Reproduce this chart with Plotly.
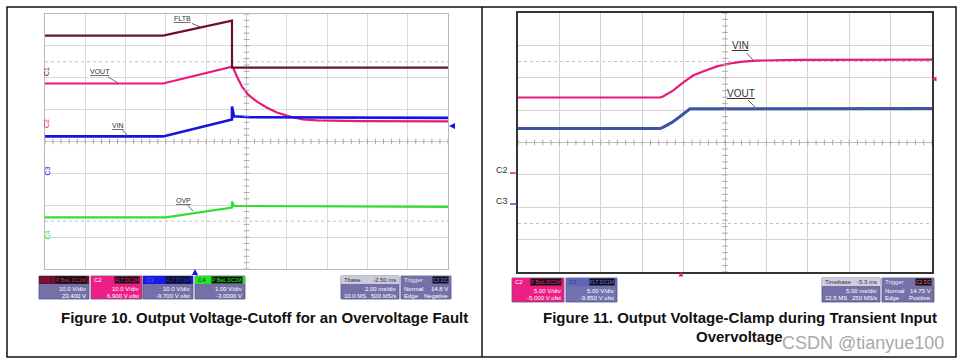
import numpy as np
import plotly.graph_objects as go

W, H = 964, 364


def px(x):
    return x / W


def py(y):
    return 1 - y / H


# ---------------- Figure 10 data (time in ms, 2 ms/div; amplitude in screen divisions) -------------
f10_fltb_t = [-10.0, -4.14, -0.72, -0.72, 10.0]
f10_fltb_v = [3.32, 3.32, 3.79, 2.32, 2.32]
f10_vout_t = [-10.0, -4.14, -0.72, -0.67, -0.47, -0.22, 0.08, 0.52, 1.02, 1.51, 2.16, 2.80, 3.50, 5.63, 10.0]
f10_vout_v = [1.82, 1.82, 2.35, 2.32, 2.03, 1.72, 1.47, 1.25, 1.06, 0.91, 0.78, 0.69, 0.66, 0.64, 0.63]
f10_vin_t = [-10.0, -4.14, -0.72, -0.72, -0.62, 0.20, 10.0]
f10_vin_v = [0.16, 0.16, 0.69, 1.10, 0.79, 0.76, 0.74]
f10_ovp_t = [-10.0, -4.0, -0.72, -0.72, -0.62, 10.0]
f10_ovp_v = [-2.38, -2.38, -2.07, -1.88, -2.02, -2.05]

# ---------------- Figure 11 data (time in ms, 5 ms/div; amplitude in screen divisions) -------------
f11_vin_t = [-25.0, -7.85, -7.49, -6.28, -5.07, -3.86, -2.66, -0.97, 0.60, 2.17, 3.86, 9.06, 25.0]
f11_vin_v = [1.39, 1.39, 1.42, 1.60, 1.85, 2.07, 2.19, 2.35, 2.44, 2.50, 2.53, 2.55, 2.56]
f11_vout_t = [-25.0, -7.85, -7.49, -6.40, -5.19, -4.23, 25.0]
f11_vout_v = [0.43, 0.43, 0.47, 0.62, 0.85, 1.04, 1.05]

# colours
MAROON = "#6d1030"
PINK = "#e8197a"
BLUE = "#1414e0"
GREEN = "#30e030"
BLUE2 = "#3b55a6"
PGRAY = "#7471a8"

FONT = "Liberation Sans, Arial, sans-serif"

fig = go.Figure()

# Figure 10 traces
fig.add_trace(go.Scatter(x=f10_vout_t, y=f10_vout_v, mode="lines", line=dict(color=PINK, width=2.2), xaxis="x", yaxis="y"))
fig.add_trace(go.Scatter(x=f10_vin_t, y=f10_vin_v, mode="lines", line=dict(color=BLUE, width=2.6), xaxis="x", yaxis="y"))
fig.add_trace(go.Scatter(x=f10_ovp_t, y=f10_ovp_v, mode="lines", line=dict(color=GREEN, width=2.2), xaxis="x", yaxis="y"))
fig.add_trace(go.Scatter(x=f10_fltb_t, y=f10_fltb_v, mode="lines", line=dict(color=MAROON, width=2.2), xaxis="x", yaxis="y"))

# Figure 11 traces
fig.add_trace(go.Scatter(x=f11_vin_t, y=f11_vin_v, mode="lines", line=dict(color=PINK, width=2.2), xaxis="x2", yaxis="y2"))
fig.add_trace(go.Scatter(x=f11_vout_t, y=f11_vout_v, mode="lines", line=dict(color=BLUE2, width=3), xaxis="x2", yaxis="y2"))

# centre-line minor ticks (graticule decoration)
for xa, ya, half in (("x", "y", 10.0), ("x2", "y2", 25.0)):
    step = half / 25.0
    hx = np.arange(-half, half + 1e-9, step)
    fig.add_trace(go.Scatter(x=hx, y=np.zeros_like(hx), mode="markers", xaxis=xa, yaxis=ya,
                             marker=dict(symbol="line-ns", size=4, line=dict(color="#a8a8a8", width=1))))
    vy = np.arange(-4, 4 + 1e-9, 0.2)
    fig.add_trace(go.Scatter(x=np.zeros_like(vy), y=vy, mode="markers", xaxis=xa, yaxis=ya,
                             marker=dict(symbol="line-ew", size=4, line=dict(color="#a8a8a8", width=1))))

shapes = []
annotations = []

# dotted reference lines
for xr, yr, half in (("x", "y", 10.0), ("x2", "y2", 25.0)):
    for lvl in (2.5, -2.5):
        shapes.append(dict(type="line", xref=xr, yref=yr, x0=-half, x1=half, y0=lvl, y1=lvl,
                           line=dict(color="#c0c0c0", width=1, dash="dot"), layer="below"))

# outer frame and divider
shapes.append(dict(type="rect", xref="paper", yref="paper", x0=px(7), x1=px(956), y0=py(357), y1=py(7),
                   line=dict(color="#111", width=1.5)))
shapes.append(dict(type="line", xref="paper", yref="paper", x0=px(482), x1=px(482), y0=py(357), y1=py(7),
                   line=dict(color="#111", width=1.5)))


def txt(x, y, s, color="#fff", size=6, anchor="left", bold=False, bg=None, yanchor="middle"):
    annotations.append(dict(xref="paper", yref="paper", x=px(x), y=py(y), text=("<b>%s</b>" % s) if bold else s,
                            showarrow=False, xanchor=anchor, yanchor=yanchor,
                            font=dict(family=FONT, size=size, color=color),
                            bgcolor=bg, borderpad=0))


def box(x0, y0, x1, y1, head_col, body_col, head_l, head_l_col, tag, tag_col, line2, line3l, line3r, head_r=None):
    hy = y0 + 8
    shapes.append(dict(type="rect", xref="paper", yref="paper", x0=px(x0), x1=px(x1), y0=py(y1), y1=py(y0),
                       fillcolor=body_col, line=dict(color="#55558a", width=0.8)))
    shapes.append(dict(type="rect", xref="paper", yref="paper", x0=px(x0), x1=px(x1), y0=py(hy), y1=py(y0),
                       fillcolor=head_col, line=dict(width=0)))
    txt(x0 + 2, y0 + 4, head_l, color=head_l_col)
    if tag:
        txt(x1 - 2, y0 + 4, tag, color=tag_col, anchor="right", bg="#111", size=5)
    if head_r:
        txt(x1 - 2, y0 + 4, head_r, color="#333", anchor="right")
    txt(x1 - 2, y0 + 12.5, line2, anchor="right")
    if line3l:
        txt(x0 + 2, y0 + 19.5, line3l)
    txt(x1 - 2, y0 + 19.5, line3r, anchor="right")


# Figure 10 info boxes
box(39, 276, 89, 299, MAROON, PGRAY, "C1", "#a0204a", "P BwL DC1M", "#c03060", "10.0 V/div", None, "23.400 V")
box(91, 276, 142, 299, "#ee1f84", "#ee1f84", "C2", "#fff", "FLT DC1M", "#ee1f84", "10.0 V/div", None, "6.900 V ofst")
box(143, 276, 193, 299, "#1a1ae6", PGRAY, "C3", "#6060ff", "FLT DC1M", "#3030ff", "10.0 V/div", None, "-9.700 V ofst")
box(195, 276, 245, 299, "#28e028", PGRAY, "C4", "#105010", "P BwL DC1M", "#30e030", "1.00 V/div", None, "-3.0000 V")
box(341, 276, 399, 299, "#cbc9de", PGRAY, "Tbase", "#333", None, None, "2.00 ms/div", "10.0 MS", "500 MS/s", head_r="-2.50 ms")
box(401, 276, 451, 299, PGRAY, PGRAY, "Trigger", "#e8e8f0", "C3 DC", "#8080ff", "14.8 V", "Edge", "Negative")
txt(403, 288.5, "Normal")

# Figure 11 info boxes
box(512, 278, 564, 302, "#ee1f84", "#ee1f84", "C2", "#fff", "F BwL DC1M", "#ee1f84", "5.00 V/div", None, "-5.000 V ofst")
box(566, 278, 617, 302, "#6266b8", "#7172b0", "C3", "#3a3aa0", "FLT DC1M", "#7070ff", "5.00 V/div", None, "-9.850 V ofst")
box(822, 278, 880, 302, "#cfcde2", PGRAY, "Timebase", "#333", None, None, "5.00 ms/div", "12.5 MS", "250 MS/s", head_r="-5.3 ms")
box(882, 278, 934, 302, PGRAY, PGRAY, "Trigger", "#e8e8f0", "C2 DC", "#ff60a0", "14.75 V", "Edge", "Positive")
txt(884, 290.5, "Normal")

# channel labels, Figure 10
for lab, col, yy in (("C1", MAROON, 65), ("C2", PINK, 117), ("C3", BLUE, 171), ("C4", GREEN, 235)):
    annotations.append(dict(xref="paper", yref="paper", x=px(41), y=py(yy), text=lab, showarrow=False,
                            textangle=-90, font=dict(family=FONT, size=7, color=col)))
# channel labels, Figure 11
txt(509, 170, "C2", color="#333", size=9, anchor="right")
txt(509, 201, "C3", color="#333", size=9, anchor="right")
shapes.append(dict(type="line", xref="paper", yref="paper", x0=px(510), x1=px(517), y0=py(173), y1=py(173),
                   line=dict(color=PINK, width=1.5)))
shapes.append(dict(type="line", xref="paper", yref="paper", x0=px(510), x1=px(517), y0=py(204), y1=py(204),
                   line=dict(color=BLUE2, width=1.5)))


def tri(x, y, col, d, s=3):
    if d == "left":
        path = "M %f %f L %f %f L %f %f Z" % (px(x - s), py(y), px(x + s), py(y - s), px(x + s), py(y + s))
    else:
        path = "M %f %f L %f %f L %f %f Z" % (px(x), py(y - s), px(x - s), py(y + s), px(x + s), py(y + s))
    shapes.append(dict(type="path", xref="paper", yref="paper", path=path, fillcolor=col, line=dict(width=0)))


tri(452, 126, BLUE, "left")
tri(195, 272, BLUE, "up")
tri(934, 79, PINK, "left", 2.5)
tri(681, 274, PINK, "up", 2.5)


# trace labels with leader lines
def lead(hx, hy, ax, ay, s, size):
    annotations.append(dict(xref="paper", yref="paper", x=px(hx), y=py(hy), ax=ax, ay=ay,
                            text="<u>%s</u>" % s, showarrow=True, arrowhead=0, arrowwidth=0.8,
                            arrowcolor="#444", standoff=0, startstandoff=0,
                            font=dict(family=FONT, size=size, color="#333")))


lead(200, 27, -18, -8, "FLTB", 7)
lead(118, 83, -18, -11, "VOUT", 7)
lead(128, 136, -10, -11, "VIN", 7)
lead(193, 211, -10, -11, "OVP", 7)
lead(753, 60, -13, -14, "VIN", 10)
lead(755, 107, -14, -14, "VOUT", 10)

# captions
txt(264, 317, "Figure 10. Output Voltage-Cutoff for an Overvoltage Fault", color="#111", size=15, anchor="center", bold=True)
txt(740, 317, "Figure 11. Output Voltage-Clamp during Transient Input", color="#111", size=15, anchor="center", bold=True)
txt(739, 336, "Overvoltage", color="#111", size=15, anchor="center", bold=True)
txt(863, 343, "CSDN @tianyue100", color="#a8a8a8", size=18, anchor="center")

axis_common = dict(showticklabels=False, ticks="", showgrid=True, zeroline=True, showline=True, mirror=True, fixedrange=True)

fig.update_layout(
    width=W, height=H, margin=dict(l=0, r=0, t=0, b=0), showlegend=False,
    paper_bgcolor="white", plot_bgcolor="white",
    xaxis=dict(domain=[px(45), px(448)], range=[-10, 10], dtick=2, gridcolor="#dadada", zerolinecolor="#c8c8c8",
               zerolinewidth=1, linecolor="#b8b8b8", linewidth=1, anchor="y", **axis_common),
    yaxis=dict(domain=[py(269), py(14)], range=[-4, 4], dtick=1, gridcolor="#dadada", zerolinecolor="#c8c8c8",
               zerolinewidth=1, linecolor="#b8b8b8", linewidth=1, anchor="x", **axis_common),
    xaxis2=dict(domain=[px(518), px(932)], range=[-25, 25], dtick=5, gridcolor="#d4d4d4", zerolinecolor="#c0c0c0",
                zerolinewidth=1, linecolor="#333", linewidth=1.5, anchor="y2", **axis_common),
    yaxis2=dict(domain=[py(272), py(13)], range=[-4, 4], dtick=1, gridcolor="#d4d4d4", zerolinecolor="#c0c0c0",
                zerolinewidth=1, linecolor="#333", linewidth=1.5, anchor="x2", **axis_common),
    shapes=shapes, annotations=annotations,
)

fig.write_html("out.html", config={"displayModeBar": False})

# remove the browser's default page margin so the figure sits at the window's origin
with open("out.html", "r", encoding="utf-8") as fh:
    page = fh.read()
page = page.replace("<head>", "<head><style>html,body{margin:0;padding:0;overflow:hidden;}</style>", 1)
with open("out.html", "w", encoding="utf-8") as fh:
    fh.write(page)
